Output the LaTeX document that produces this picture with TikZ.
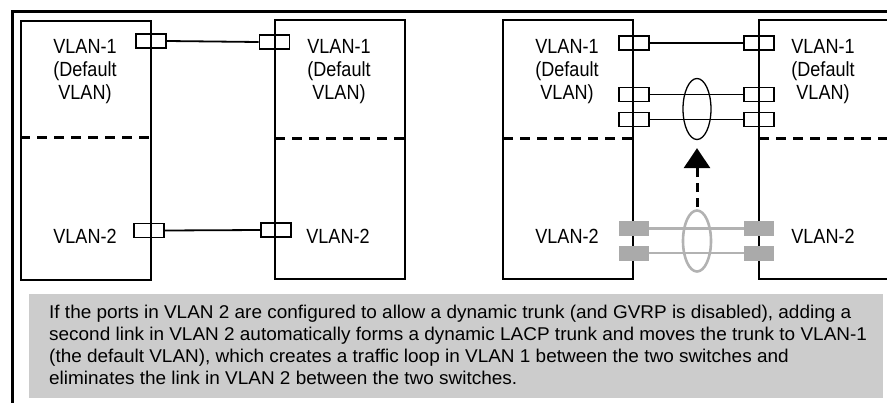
\documentclass[tikz,border=0pt]{standalone}
\usepackage{fontspec}
\setmainfont{Liberation Sans}
\newfontfamily\lblfont[FakeStretch=0.88]{Liberation Sans}
\newfontfamily\capfont[FakeStretch=1.025]{Liberation Sans}
\usetikzlibrary{shapes.geometric,arrows.meta}
\definecolor{portgray}{RGB}{170,170,170}
\definecolor{linkgray}{RGB}{178,178,178}
\definecolor{capgray}{RGB}{204,204,204}
\tikzset{
  switchbox/.style={draw, line width=2pt, minimum width=130pt, minimum height=259pt, inner sep=0pt},
  port/.style={draw, line width=1.8pt, minimum width=30pt, minimum height=14pt, inner sep=0pt},
  grayport/.style={fill=portgray, draw=none, minimum width=30pt, minimum height=15pt, inner sep=0pt},
  link/.style={line width=1.8pt},
  graylink/.style={draw=linkgray, line width=2.4pt},
  divider/.style={line width=3pt, dash pattern=on 10pt off 7pt},
  lbl/.style={font={\lblfont\fontsize{20.5}{23}\selectfont}, align=center, anchor=base, inner sep=0pt},
  trunkring/.style={ellipse, draw, line width=1.3pt, minimum width=28pt, minimum height=61pt, inner sep=0pt},
  grayring/.style={ellipse, draw=linkgray, line width=2.6pt, minimum width=28pt, minimum height=61pt, inner sep=0pt},
  capbox/.style={fill=capgray, draw=none, minimum width=854pt, minimum height=104pt, inner sep=0pt, anchor=north west},
  captext/.style={font={\capfont\fontsize{18.5}{22}\selectfont}, align=left, anchor=base west, inner sep=0pt},
}
\begin{document}
\begin{tikzpicture}[x=1pt,y=-1pt]
\useasboundingbox (0,0) rectangle (887,402);
% outer frame (top and left edges)
\draw[line width=3.2pt] (12.5,405) -- (12.5,11.5) -- (890,11.5);

% ---------- left diagram ----------
\node[switchbox] (A) at (86,150) {};
\node[switchbox] (B) at (340,149.5) {};
\draw[divider] (20,137) -- (152,137);
\draw[divider] (275,138) -- (408,138);

\node[lbl] (A1) at (85,99.5) {VLAN-1\\(Default\\VLAN)};
\node[lbl] (B1) at (339,99.5) {VLAN-1\\(Default\\VLAN)};
\node[lbl] (A2) at (85,243) {VLAN-2};
\node[lbl] (B2) at (338,243) {VLAN-2};

\node[port] (pa1) at (151,41) {};
\node[port] (pb1) at (274.5,42) {};
\draw[link] (pa1.east) -- (pb1.west);
\node[port] (pa2) at (149,230.5) {};
\node[port] (pb2) at (276,230) {};
\draw[link] (pa2.east) -- (pb2.west);

% ---------- right diagram ----------
\node[switchbox] (C) at (568,149.5) {};
\node[switchbox, minimum width=150pt] (D) at (834,149.5) {};
\draw[divider] (503,138) -- (634,138);
\draw[divider] (759,138) -- (890,138);

\node[lbl] (C1) at (567,99.5) {VLAN-1\\(Default\\VLAN)};
\node[lbl] (D1) at (823,99.5) {VLAN-1\\(Default\\VLAN)};
\node[lbl] (C2) at (567,243) {VLAN-2};
\node[lbl] (D2) at (823,243) {VLAN-2};

\node[port] (pc1) at (634,43) {};
\node[port] (pd1) at (759,43) {};
\draw[link] (pc1.east) -- (pd1.west);
\node[port] (pc2) at (634,94.5) {};
\node[port] (pd2) at (759,94.5) {};
\draw[link] (pc2.east) -- (pd2.west);
\node[port] (pc3) at (634,119.5) {};
\node[port] (pd3) at (759,119.5) {};
\draw[link] (pc3.east) -- (pd3.west);
\node[trunkring] (ring1) at (697,109) {};

\node[grayport] (gc1) at (634,228.5) {};
\node[grayport] (gd1) at (759,228.5) {};
\draw[graylink] (gc1.east) -- (gd1.west);
\node[grayport] (gc2) at (634,253) {};
\node[grayport] (gd2) at (759,253) {};
\draw[graylink] (gc2.east) -- (gd2.west);
\node[grayring] (ring2) at (697,241) {};

\draw[line width=3pt, dash pattern=on 9pt off 6pt, -{Triangle[length=20pt,width=26pt]}, shorten >=8pt, shorten <=2pt] (ring2.north) -- (ring1.south);

% ---------- caption ----------
\node[capbox] (cap) at (29,294) {};
\node[captext] (captxt) at (49,384) {If the ports in VLAN 2 are configured to allow a dynamic trunk (and GVRP is disabled), adding a\\second link in VLAN 2 automatically forms a dynamic LACP trunk and moves the trunk to VLAN-1\\(the default VLAN), which creates a traffic loop in VLAN 1 between the two switches and\\eliminates the link in VLAN 2 between the two switches.};
\end{tikzpicture}
\end{document}
